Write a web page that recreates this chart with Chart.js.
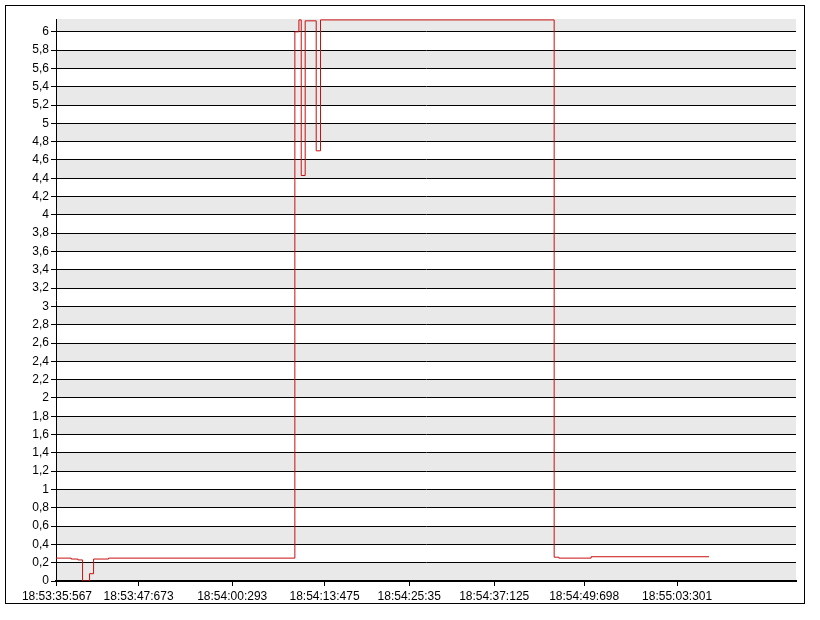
<!DOCTYPE html>
<html>
<head>
<meta charset="utf-8">
<script src="https://cdn.jsdelivr.net/npm/chart.js@4"></script>
<style>
  html, body { margin: 0; padding: 0; background: #fff; }
  canvas { display: block; }
</style>
</head>
<body>
<canvas id="chart" width="820" height="620"></canvas>
<script>
// time in seconds after 18:53:00, value held until the next point
const times  = [35.43, 37.59, 38.54, 39.19, 40.18, 40.75, 42.87, 69.25, 69.82, 70.15, 70.71, 72.27, 72.88, 105.96, 106.62, 111.19, 127.89];
const values = [0.25,  0.24,  0.23,  0,     0.08,  0.24,  0.25,  6.0,   6.13,  4.43,  6.12,  4.70,  6.13,  0.26,   0.25,   0.265,  0.265];

const tickPositions = [35.567, 47.12, 60.38, 73.45, 85.44, 97.47, 110.21, 123.37];
const tickLabels = ['18:53:35:567', '18:53:47:673', '18:54:00:293', '18:54:13:475', '18:54:25:35', '18:54:37:125', '18:54:49:698', '18:55:03:301'];

const points = times.map((t, i) => ({ x: t, y: values[i] }));

const labelFont = { family: "'Liberation Sans', Arial, sans-serif", size: 12 };

// alternating grey bands behind the grid
const bandsPlugin = {
    id: 'bands',
    beforeDraw(chart) {
        const ctx = chart.ctx;
        const area = chart.chartArea;
        const y = chart.scales.y;
        ctx.save();
        ctx.fillStyle = '#fff';
        ctx.fillRect(0, 0, chart.width, chart.height);
        ctx.fillStyle = '#e9e9e9';
        for (let i = 0; i < 31; i += 2) {
            const lo = i * 0.2;
            const hi = Math.min((i + 1) * 0.2, y.max);
            const top = y.getPixelForValue(hi);
            const bot = y.getPixelForValue(lo);
            ctx.fillRect(area.left, top, area.right - area.left, bot - top);
        }
        ctx.restore();
    },
    afterDraw(chart) {
        const ctx = chart.ctx;
        ctx.save();
        ctx.strokeStyle = '#000';
        ctx.lineWidth = 1;
        ctx.strokeRect(5.5, 5.5, 799, 598);
        ctx.restore();
    }
};

new Chart(document.getElementById('chart'), {
    type: 'line',
    data: {
        datasets: [{
            data: points,
            borderColor: '#c81010',
            borderWidth: 1,
            pointRadius: 0,
            stepped: true,
            fill: false
        }]
    },
    options: {
        responsive: false,
        animation: false,
        devicePixelRatio: 1,
        layout: {
            padding: { left: 0, top: 19, right: 24, bottom: 0 }
        },
        plugins: {
            legend: { display: false },
            tooltip: { enabled: false }
        },
        scales: {
            x: {
                type: 'linear',
                min: 35.43,
                max: 140.2,
                afterBuildTicks(scale) {
                    scale.ticks = tickPositions.map(v => ({ value: v }));
                },
                afterFit(scale) {
                    scale.height = 39;
                },
                grid: {
                    drawOnChartArea: false,
                    drawTicks: true,
                    tickLength: 5,
                    color: '#000'
                },
                border: { display: true, color: '#000', width: 2 },
                ticks: {
                    autoSkip: false,
                    maxRotation: 0,
                    padding: 3,
                    color: '#000',
                    font: labelFont,
                    callback: (v, i) => tickLabels[i]
                }
            },
            y: {
                min: 0,
                max: 6.14,
                afterFit(scale) {
                    scale.width = 56;
                },
                grid: {
                    color: '#000',
                    lineWidth: 1,
                    tickLength: 5
                },
                border: { display: true, color: '#000', width: 1 },
                ticks: {
                    stepSize: 0.2,
                    includeBounds: false,
                    padding: 2,
                    color: '#000',
                    font: labelFont,
                    callback: v => String(Number(v.toFixed(1))).replace('.', ',')
                }
            }
        }
    },
    plugins: [bandsPlugin]
});
</script>
</body>
</html>
